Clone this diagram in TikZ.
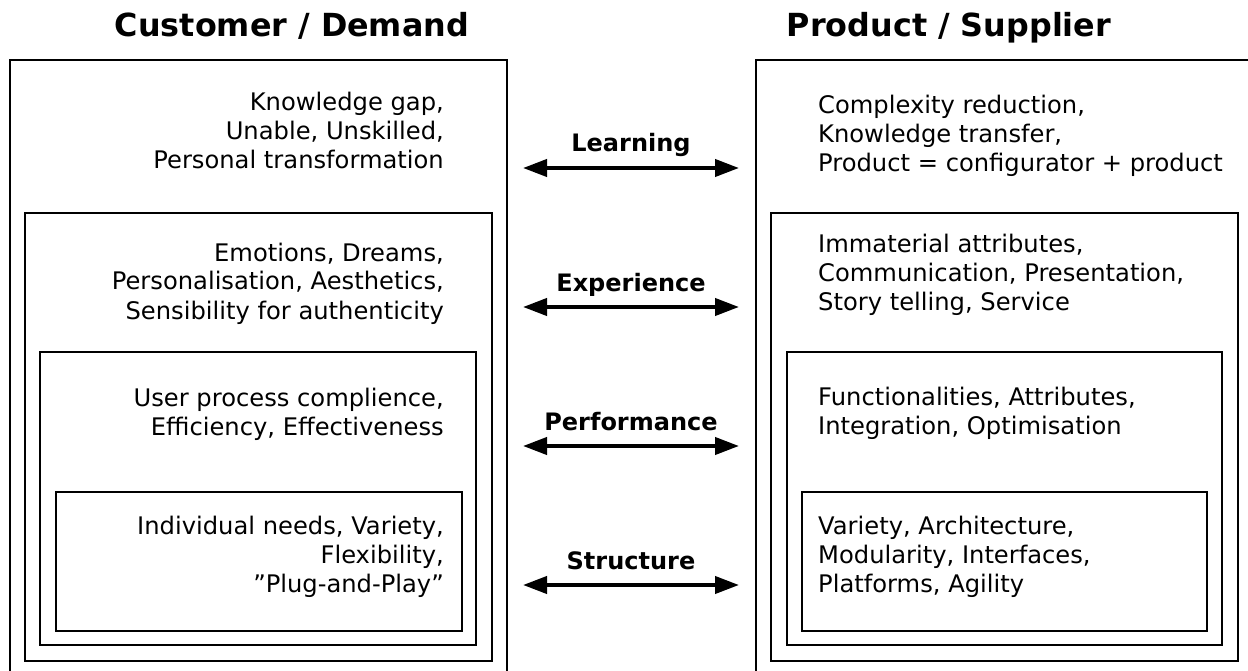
\documentclass[tikz,border=0pt]{standalone}
\usepackage{fontspec}
\setmainfont{DejaVu Sans}
\usetikzlibrary{arrows.meta}

\tikzset{
  layer/.style={draw=black, line width=2pt, fill=none},
  blocktext/.style={inner sep=0pt, font=\fontsize{24.2}{29}\selectfont},
  % anchored at the baseline of the last line
  lefttext/.style={blocktext, align=right, anchor=base east},
  righttext/.style={blocktext, align=left, anchor=base west},
  heading/.style={inner sep=0pt, anchor=base, font=\fontsize{31.8}{36}\selectfont\bfseries},
  linklabel/.style={inner sep=0pt, anchor=base, font=\fontsize{24}{28}\selectfont\bfseries},
  link/.style={line width=4pt, {Triangle[length=24pt,width=17pt]}-{Triangle[length=24pt,width=17pt]}},
}

\begin{document}
\begin{tikzpicture}[x=1pt, y=-1pt]
  \useasboundingbox (0,0) rectangle (1248,671);
  \clip (0,0) rectangle (1248,671);
  \fill[white] (0,0) rectangle (1248,671);

  % headings
  \node[heading] (hcust) at (292,37) {Customer / Demand};
  \node[heading] (hprod) at (949,37) {Product / Supplier};

  % customer side: nested layers
  \draw[layer] (10,60) rectangle (507,676);
  \draw[layer] (25,213) rectangle (492,661);
  \draw[layer] (40,352) rectangle (476,645);
  \draw[layer] (56,492) rectangle (462,631);

  % product side: nested layers
  \draw[layer] (756,60) rectangle (1253,676);
  \draw[layer] (771,213) rectangle (1238,661);
  \draw[layer] (787,352) rectangle (1222,645);
  \draw[layer] (802,492) rectangle (1207,631);

  % customer texts
  \node[lefttext] (c1) at (444,169) {Knowledge gap,\\Unable, Unskilled,\\Personal transformation};
  \node[lefttext] (c2) at (444,319) {Emotions, Dreams,\\Personalisation, Aesthetics,\\Sensibility for authenticity};
  \node[lefttext] (c3) at (444,435) {User process complience,\\Efficiency, Effectiveness};
  \node[lefttext] (c4) at (444,592) {Individual needs, Variety,\\Flexibility,\\”Plug-and-Play”};

  % product texts
  \node[righttext] (p1) at (818,172) {Complexity reduction,\\Knowledge transfer,\\Product = configurator + product};
  \node[righttext] (p2) at (818,310) {Immaterial attributes,\\Communication, Presentation,\\Story telling, Service};
  \node[righttext] (p3) at (818,434) {Functionalities, Attributes,\\Integration, Optimisation};
  \node[righttext] (p4) at (818,592) {Variety, Architecture,\\Modularity, Interfaces,\\Platforms, Agility};

  % link arrows between the two sides
  \coordinate (aL1) at (523,168); \coordinate (aR1) at (739,168);
  \coordinate (aL2) at (523,307); \coordinate (aR2) at (739,307);
  \coordinate (aL3) at (523,446); \coordinate (aR3) at (739,446);
  \coordinate (aL4) at (523,585); \coordinate (aR4) at (739,585);
  \draw[link] (aL1) -- (aR1);
  \draw[link] (aL2) -- (aR2);
  \draw[link] (aL3) -- (aR3);
  \draw[link] (aL4) -- (aR4);
  \node[linklabel] (l1) at (631,152) {Learning};
  \node[linklabel] (l2) at (631,291) {Experience};
  \node[linklabel] (l3) at (631,430) {Performance};
  \node[linklabel] (l4) at (631,569) {Structure};
\end{tikzpicture}
\end{document}
